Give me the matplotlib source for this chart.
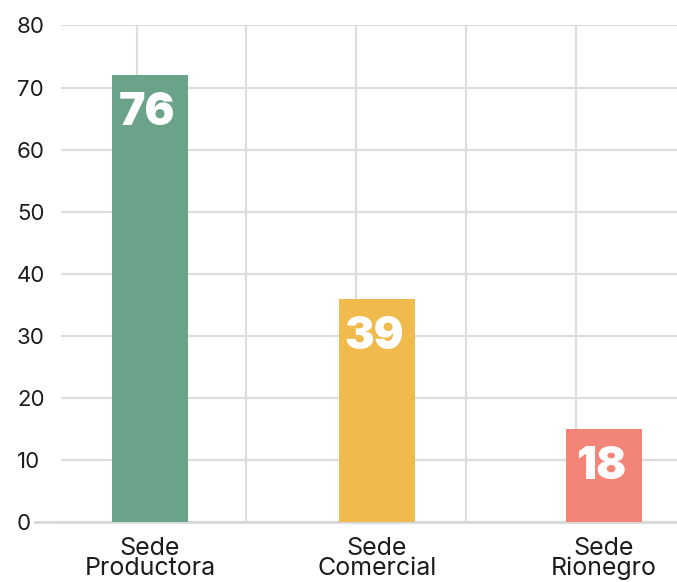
import matplotlib
matplotlib.use('Agg')
import matplotlib.pyplot as plt

sedes = ['Sede\nProductora', 'Sede\nComercial', 'Sede\nRionegro']
alturas = [72, 36, 15]          # altura de las barras leida sobre el eje
etiquetas = ['76', '39', '18']  # valores impresos en las barras
colores = ['#6aa28a', '#f0ba4c', '#f28478']
yticks = [0, 10, 20, 30, 40, 50, 60, 70, 80]

posiciones = [0, 1, 2]
grilla_x = [-0.057, 0.423, 0.907, 1.392, 1.877]  # lineas verticales de fondo

plt.rcParams['font.family'] = ['Inter', 'DejaVu Sans']

fig = plt.figure(figsize=(6.77, 5.82), dpi=100)
ax = fig.add_axes([0.0901, 0.1031, 0.9099, 0.8531])

ax.bar(posiciones, alturas, width=0.335, color=colores, zorder=3)

for x, h, t in zip(posiciones, alturas, etiquetas):
    ax.annotate(t, (x, h), xytext=(-3, -17), textcoords='offset pixels',
                ha='center', va='top', color='white', fontsize=32,
                fontweight='black', zorder=4)

ax.set_xlim(-0.392, 2.322)
ax.set_ylim(0, 80)

ax.set_yticks(yticks)
ax.set_yticklabels([str(v) for v in yticks], ha='left')
ax.tick_params(axis='y', length=0, pad=31.7, labelsize=16, labelcolor='#1c1c1c')

ax.set_xticks(posiciones)
ax.set_xticklabels(sedes, linespacing=0.82)
ax.tick_params(axis='x', length=0, pad=11, labelsize=18, labelcolor='#1c1c1c')

ax.set_xticks(grilla_x, minor=True)
ax.tick_params(axis='x', which='minor', length=0)
ax.grid(axis='x', which='minor', color='#dddddd', linewidth=1.6, zorder=0)
ax.grid(axis='y', which='major', color='#dddddd', linewidth=1.6, zorder=0)

# linea base mas larga, llega hasta la etiqueta del 0
ax.plot([-0.042, 1], [0, 0], transform=ax.get_yaxis_transform(), color='#d8d8d8',
        linewidth=2, clip_on=False, zorder=2)

for s in ax.spines.values():
    s.set_visible(False)

fig.savefig('out.png', dpi=100)
